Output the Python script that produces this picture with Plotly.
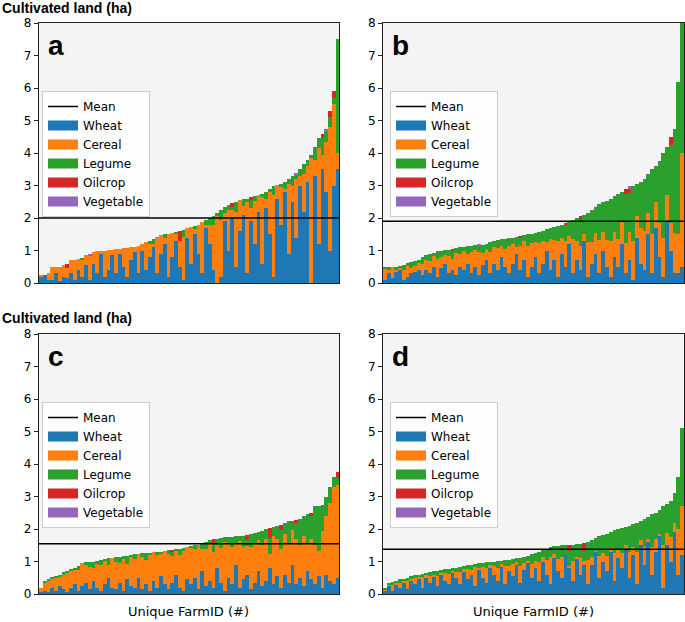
import plotly.graph_objects as go

# ---------------- data (ha per farm, farms sorted by total cultivated land) ----------------
crops = ["Wheat", "Cereal", "Legume", "Oilcrop", "Vegetable"]
colors = ["#1f77b4", "#ff7f0e", "#2ca02c", "#d62728", "#9467bd"]
panel_letters = ["a", "b", "c", "d"]
mean_values = [2.0, 1.9, 1.55, 1.38]
y_ticks = [0, 1, 2, 3, 4, 5, 6, 7, 8]

# Panel a
a_total = [0.25,0.25,0.3,0.5,0.5,0.5,0.55,0.6,0.7,0.72,
           0.75,0.78,0.85,0.9,0.95,0.97,1.0,1.0,1.02,1.03,
           1.05,1.06,1.07,1.08,1.1,1.12,1.15,1.2,1.25,1.3,
           1.35,1.42,1.48,1.5,1.52,1.55,1.58,1.6,1.62,1.68,
           1.72,1.75,1.8,1.88,1.95,2.0,2.05,2.15,2.25,2.35,
           2.4,2.45,2.5,2.55,2.58,2.6,2.65,2.68,2.72,2.75,
           2.8,2.9,3.0,3.02,3.05,3.1,3.2,3.3,3.4,3.5,
           3.65,3.8,3.95,4.2,4.45,4.6,4.75,5.3,5.9,7.5]
a_wheat = [0.2,0.25,0.1,0.1,0.3,0.05,0.2,0.15,0.3,0.1,
           0.4,0.2,0.55,0.1,0.6,0.3,0.9,0.2,0.4,0.85,
           0.3,0.9,0.5,0.2,0.7,0.95,0.3,1.0,0.4,0.8,
           1.1,0.3,0.9,1.2,0.2,0.8,1.3,0.5,0.1,1.4,
           0.6,1.5,0.9,0.3,1.7,1.2,0.4,0.0,0.2,1.9,
           1.0,2.0,0.5,1.6,2.1,0.3,1.9,1.2,2.2,0.6,
           2.3,1.5,0.2,2.6,1.8,2.8,0.9,2.5,1.4,3.0,
           2.2,3.1,0.0,3.3,1.2,3.5,2.8,1.0,3.0,3.5]
a_legume = [0,0,0,0,0,0,0,0,0,0,
            0,0.05,0,0,0,0,0,0,0,0,
            0,0,0,0,0,0,0,0,0,0.1,
            0.15,0,0,0.1,0,0,0.05,0,0.2,0,
            0,0.1,0,0,0.15,0.2,0.25,0.1,0.3,0.2,
            0.15,0.1,0.3,0,0.2,0.1,0.25,0.15,0,0.1,
            0.2,0.1,0.3,0,0.1,0.2,0.15,0.3,0.1,0.2,
            0.3,0.2,0.1,0.4,0.3,0.5,0.3,0.3,0.2,3.5]
a_oil = [0,0,0,0,0,0,0,0.15,0,0,
         0,0,0,0,0,0,0,0,0,0,
         0,0,0,0,0,0,0,0,0,0,
         0,0,0,0,0,0,0,0.3,0,0,
         0,0,0,0,0,0,0,0,0,0,
         0,0.1,0,0,0,0,0.1,0,0,0,
         0,0,0,0,0,0,0,0,0,0,
         0,0,0,0,0,0.15,0,0.2,0.2,0]
a_veg = [0,0,0,0,0,0,0,0,0,0,
         0,0,0,0.05,0,0,0,0,0,0,
         0,0,0,0,0,0,0,0,0,0,
         0,0,0,0,0,0,0,0,0,0,
         0,0,0,0,0,0,0,0,0,0,
         0,0,0,0,0,0,0,0,0,0,
         0,0,0,0,0,0,0,0,0.1,0,
         0,0,0,0,0,0,0.1,0,0,0]

# Panel b
b_total = [0.5,0.5,0.5,0.5,0.52,0.55,0.62,0.66,0.68,0.72,
           0.8,0.85,0.88,0.92,0.98,1.0,1.02,1.03,1.05,1.07,
           1.1,1.12,1.13,1.15,1.16,1.17,1.18,1.2,1.25,1.3,
           1.33,1.35,1.36,1.38,1.4,1.42,1.45,1.48,1.5,1.52,
           1.55,1.58,1.6,1.65,1.7,1.72,1.75,1.8,1.85,1.9,
           1.95,2.0,2.05,2.1,2.15,2.25,2.35,2.42,2.48,2.52,
           2.6,2.68,2.75,2.8,2.88,2.98,3.0,3.05,3.1,3.2,
           3.35,3.5,3.6,3.75,4.0,4.2,4.5,4.75,6.2,8.0]
b_wheat = [0.1,0.3,0.15,0.35,0.4,0.1,0.2,0.3,0.35,0.4,
           0.25,0.4,0.3,0.5,0.2,0.45,0.6,0.3,0.4,0.25,
           0.5,0.4,0.6,0.3,0.5,0.25,0.55,0.7,0.3,0.6,
           0.4,0.8,0.5,0.3,0.6,0.9,0.4,0.7,0.2,0.5,
           0.8,0.3,0.6,1.0,0.4,0.7,0.2,0.9,0.5,1.2,
           0.3,0.7,0.4,1.3,0.2,0.6,0.9,0.3,1.0,0.5,
           0.2,0.8,0.5,1.2,0.3,0.7,0.1,1.4,0.6,0.4,
           1.5,0.3,1.7,0.8,0.2,1.9,1.0,0.3,0.3,0.5]
b_legume = [0.05,0.1,0.0,0.1,0.05,0.15,0.1,0.2,0.15,0.1,
            0.2,0.15,0.2,0.1,0.25,0.2,0.15,0.2,0.25,0.15,
            0.2,0.15,0.25,0.2,0.15,0.2,0.25,0.15,0.3,0.2,
            0.25,0.2,0.3,0.25,0.2,0.3,0.25,0.2,0.35,0.3,
            0.3,0.35,0.3,0.4,0.35,0.4,0.45,0.4,0.5,0.45,
            0.6,0.7,0.8,0.6,0.9,1.0,0.8,1.1,0.9,1.2,
            1.3,1.1,1.4,0.9,1.5,1.2,1.7,1.0,1.4,1.6,
            1.2,2.0,1.1,1.9,2.6,1.5,2.4,3.2,4.7,4.0]
b_oil = [0,0,0,0,0,0,0,0,0,0,
         0,0,0,0,0,0,0,0,0.05,0,
         0,0,0,0,0,0,0,0,0,0,
         0,0,0,0,0,0,0.05,0,0,0,
         0,0,0,0,0,0,0,0,0.05,0,
         0,0,0.1,0,0,0,0,0,0,0,
         0,0,0,0,0.15,0.1,0,0,0,0,
         0,0,0,0,0,0,0.25,0,0,0]
b_veg = [0,0,0,0,0,0,0,0,0,0,
         0,0,0,0,0,0,0,0,0,0,
         0,0,0,0,0,0.03,0,0,0,0,
         0,0,0,0,0,0,0,0,0,0,
         0,0,0,0,0,0,0,0,0,0,
         0,0,0,0,0,0,0,0,0,0,
         0,0,0,0,0,0.1,0,0,0,0,
         0,0,0,0,0,0,0,0,0,0]

# Panel c
c_total = [0.17,0.4,0.45,0.52,0.56,0.6,0.68,0.72,0.78,0.8,
           0.85,0.95,0.97,0.98,1.0,1.02,1.05,1.08,1.1,1.12,
           1.14,1.15,1.17,1.18,1.2,1.22,1.24,1.25,1.26,1.27,
           1.28,1.29,1.3,1.32,1.34,1.36,1.38,1.4,1.42,1.44,
           1.47,1.5,1.52,1.55,1.6,1.65,1.68,1.7,1.72,1.74,
           1.75,1.76,1.78,1.79,1.8,1.82,1.85,1.88,1.92,1.95,
           2.0,2.02,2.05,2.08,2.12,2.2,2.24,2.26,2.28,2.3,
           2.4,2.45,2.5,2.7,2.72,2.75,3.0,3.3,3.6,3.76]
c_wheat = [0.05,0.1,0.05,0.2,0.1,0.25,0.15,0.05,0.2,0.3,
           0.1,0.25,0.35,0.15,0.4,0.2,0.1,0.3,0.5,0.2,
           0.15,0.35,0.1,0.45,0.25,0.2,0.5,0.15,0.3,0.1,
           0.4,0.2,0.55,0.3,0.15,0.35,0.6,0.2,0.1,0.45,
           0.3,0.5,0.15,0.7,0.25,0.4,0.2,0.8,0.35,0.1,
           0.5,0.3,0.9,0.2,0.45,0.6,0.15,0.35,0.7,0.25,
           0.4,0.8,0.3,0.55,0.2,0.6,0.35,0.9,0.3,0.5,
           0.25,0.7,0.45,0.3,0.55,0.2,0.6,0.4,0.3,0.5]
c_legume = [0.0,0.05,0.05,0.05,0.08,0.05,0.1,0.05,0.08,0.05,
            0.1,0.0,0.05,0.15,0.2,0.1,0.15,0.05,0.2,0.0,
            0.15,0.2,0.1,0.25,0.05,0.15,0.0,0.1,0.2,0.05,
            0.0,0.1,0.05,0.0,0.1,0.15,0.05,0.2,0.1,0.0,
            0.05,0.1,0.0,0.15,0.2,0.1,0.25,0.2,0.3,0.15,
            0.2,0.3,0.25,0.15,0.35,0.2,0.4,0.3,0.25,0.45,
            0.3,0.5,0.25,0.4,0.6,0.35,0.7,0.3,0.5,0.8,
            0.6,0.9,0.7,1.2,1.4,0.8,0.6,0.5,0.3,0.2]
c_oil = [0,0,0,0,0,0,0,0,0,0,
         0,0,0,0,0,0,0,0,0,0,
         0,0,0,0,0,0,0,0,0,0,
         0,0,0,0,0,0.05,0,0,0,0,
         0,0,0,0,0,0,0.15,0,0,0,
         0,0,0,0,0,0.15,0,0,0,0,
         0,0.3,0,0,0.15,0,0,0,0.1,0,
         0,0,0.1,0,0,0,0,0,0,0.2]
c_veg = [0] * 80

# Panel d
d_total = [0.2,0.35,0.37,0.4,0.45,0.47,0.5,0.55,0.58,0.6,
           0.62,0.66,0.68,0.7,0.71,0.73,0.76,0.78,0.8,0.81,
           0.83,0.86,0.88,0.9,0.92,0.94,0.96,0.98,1.0,1.0,
           1.01,1.03,1.04,1.05,1.07,1.1,1.12,1.15,1.18,1.22,
           1.26,1.3,1.35,1.4,1.44,1.47,1.49,1.5,1.5,1.51,
           1.52,1.54,1.55,1.58,1.6,1.65,1.72,1.78,1.82,1.86,
           1.92,1.96,2.0,2.02,2.05,2.1,2.15,2.2,2.25,2.3,
           2.38,2.45,2.5,2.6,2.7,2.78,2.85,3.1,3.6,5.1]
d_wheat = [0.1,0.25,0.1,0.3,0.2,0.35,0.15,0.4,0.3,0.45,
           0.2,0.5,0.35,0.55,0.25,0.6,0.4,0.3,0.65,0.5,
           0.3,0.7,0.45,0.6,0.25,0.75,0.5,0.35,0.8,0.6,
           0.4,0.85,0.3,0.7,0.55,0.9,0.35,0.75,0.95,0.5,
           0.8,0.4,1.0,0.6,0.3,1.1,0.7,0.5,1.2,0.8,
           0.4,1.1,0.6,0.9,0.3,0.9,1.3,0.5,1.0,0.7,
           1.3,0.4,1.1,0.8,1.4,0.5,1.2,0.3,1.5,0.9,
           1.6,0.6,1.3,1.8,0.2,1.5,1.0,1.9,0.6,1.2]
d_legume = [0.05,0.05,0.1,0.05,0.1,0.05,0.1,0.08,0.1,0.05,
            0.1,0.08,0.12,0.1,0.15,0.08,0.1,0.15,0.1,0.12,
            0.15,0.1,0.12,0.15,0.1,0.15,0.12,0.18,0.1,0.15,
            0.2,0.12,0.18,0.2,0.15,0.1,0.25,0.2,0.15,0.3,
            0.25,0.3,0.2,0.35,0.3,0.25,0.4,0.35,0.3,0.45,
            0.5,0.4,0.45,0.3,0.55,0.5,0.4,0.6,0.55,0.7,
            0.5,0.7,0.6,0.75,0.55,0.8,0.7,0.9,0.6,0.85,
            0.7,1.0,0.8,0.75,1.2,0.9,1.1,0.9,1.6,2.4]
d_oil = [0,0,0,0,0,0,0,0,0,0,
         0,0,0,0,0,0,0,0,0,0,
         0,0,0,0,0,0,0,0,0,0,
         0,0,0,0,0,0,0,0,0,0,
         0,0,0,0,0,0,0,0,0,0.2,
         0,0,0,0.25,0,0,0,0,0,0,
         0,0,0,0,0,0,0,0,0,0,
         0,0,0,0,0,0,0,0,0,0]
d_veg = [0] * 80

panels = [
    (a_total, a_wheat, a_legume, a_oil, a_veg),
    (b_total, b_wheat, b_legume, b_oil, b_veg),
    (c_total, c_wheat, c_legume, c_oil, c_veg),
    (d_total, d_wheat, d_legume, d_oil, d_veg),
]

# ---------------- layout geometry ----------------
W, H = 685, 622
x_doms = [(38.7, 339.0), (383.0, 684.0), (38.7, 339.0), (383.0, 684.0)]
y_doms = [(23.0, 283.0), (23.0, 283.0), (334.0, 594.0), (334.0, 594.0)]
legend_pos = [(42, 91), (390, 91), (42, 402), (390, 402)]

fig = go.Figure()
layout = dict(
    template="none",
    width=W, height=H, autosize=False,
    margin=dict(l=0, r=0, t=0, b=0, pad=0, autoexpand=False),
    paper_bgcolor="white",
    plot_bgcolor="#f4f4f4",
    barmode="stack",
    bargap=0,
    font=dict(family="DejaVu Sans", size=12, color="black"),
    annotations=[],
)

for p, (total, wheat, legume, oil, veg) in enumerate(panels):
    n = len(total)
    xs = list(range(n))
    cereal = [max(0.0, round(total[i] - wheat[i] - legume[i] - oil[i] - veg[i], 3)) for i in range(n)]
    series = [wheat, cereal, legume, oil, veg]
    sfx = "" if p == 0 else str(p + 1)
    xa, ya = "x" + sfx, "y" + sfx
    lg = "legend" + sfx

    fig.add_trace(go.Scatter(
        x=[-0.5, n - 0.5], y=[mean_values[p]] * 2, mode="lines",
        line=dict(color="black", width=1.5), name="Mean",
        xaxis=xa, yaxis=ya, legend=lg, showlegend=True, hoverinfo="skip"))
    for name, col, vals in zip(crops, colors, series):
        fig.add_trace(go.Bar(
            x=xs, y=vals, name=name, marker=dict(color=col, line=dict(width=0)),
            xaxis=xa, yaxis=ya, legend=lg, legendgroup=name + sfx, showlegend=False))
        # legend patch (wide rectangle like the original legend handles)
        fig.add_trace(go.Scatter(
            x=[None], y=[None], mode="lines", name=name, line=dict(color=col, width=10),
            xaxis=xa, yaxis=ya, legend=lg, legendgroup=name + sfx, showlegend=True,
            hoverinfo="skip"))

    x0, x1 = x_doms[p]
    y0, y1 = y_doms[p]
    layout["xaxis" + sfx] = dict(
        domain=[x0 / W, x1 / W], range=[-0.5, n - 0.5], showticklabels=False,
        ticks="", showgrid=False, zeroline=False, showline=True, mirror=True,
        linecolor="#222222", linewidth=1, anchor=ya, automargin=False)
    layout["yaxis" + sfx] = dict(
        domain=[1 - y1 / H, 1 - y0 / H], range=[0, 8], tickvals=y_ticks,
        ticks="outside", ticklen=4, tickcolor="#222222", showgrid=False,
        zeroline=False, showline=True, mirror=True, linecolor="#222222",
        linewidth=1, anchor=xa, automargin=False,
        tickfont=dict(size=12, family="DejaVu Sans"))
    lx, ly = legend_pos[p]
    layout[lg] = dict(
        x=lx / W, y=1 - ly / H, xanchor="left", yanchor="top",
        bgcolor="rgba(255,255,255,0.9)", bordercolor="#cccccc", borderwidth=1,
        font=dict(size=12, family="DejaVu Sans"), traceorder="normal",
        tracegroupgap=0, itemwidth=30)
    layout["annotations"].append(dict(
        text="<b>%s</b>" % panel_letters[p], x=(x0 + 7) / W, y=1 - (y0 + 5) / H,
        xref="paper", yref="paper", xanchor="left", yanchor="top", showarrow=False,
        font=dict(size=28, family="Liberation Sans", color="black")))

for ytxt in (8, 318):
    layout["annotations"].append(dict(
        text="<b>Cultivated land (ha)</b>", x=0, y=1 - ytxt / H, xref="paper", yref="paper",
        xanchor="left", yanchor="middle", showarrow=False,
        font=dict(size=14, family="Liberation Sans", color="black")))
for xd in (x_doms[2], x_doms[3]):
    layout["annotations"].append(dict(
        text="Unique FarmID (#)", x=(xd[0] + xd[1]) / 2 / W, y=1 - 611 / H,
        xref="paper", yref="paper", xanchor="center", yanchor="middle", showarrow=False,
        font=dict(size=13, family="DejaVu Sans", color="black")))

fig.update_layout(**layout)
fig.write_html("out.html", config={"displayModeBar": False},
               post_script="document.body.style.margin='0px';")
